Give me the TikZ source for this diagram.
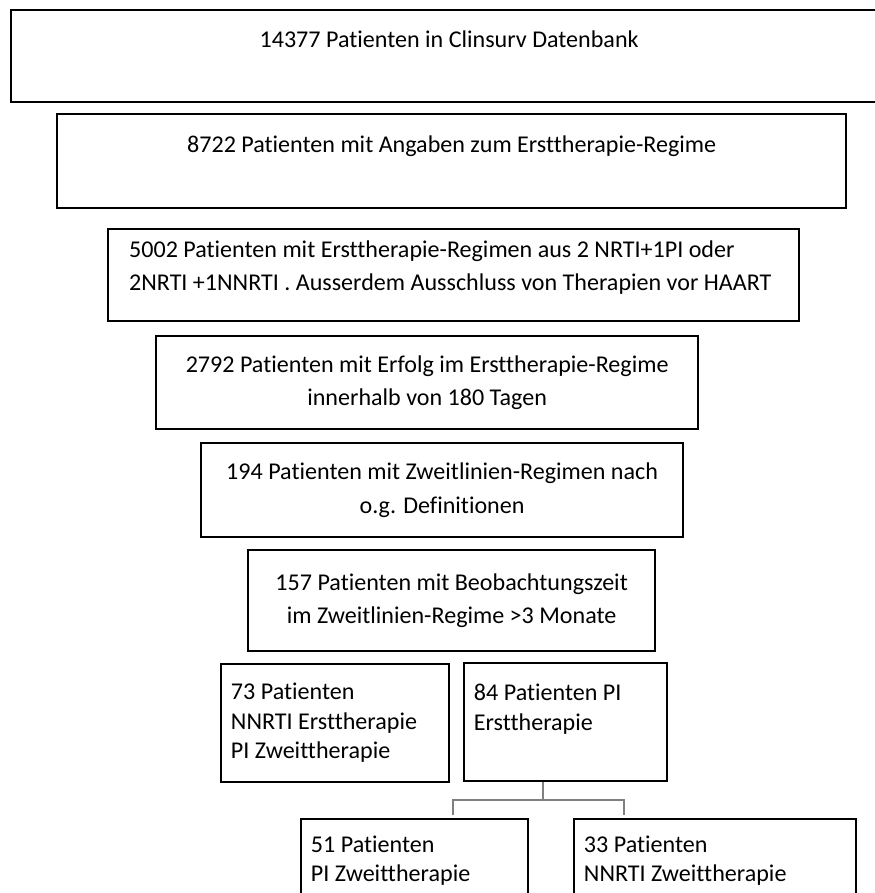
\documentclass[tikz,border=0pt]{standalone}
\usepackage{fontspec}
\setmainfont{Carlito}[Ligatures=NoCommon]

\begin{document}
\begin{tikzpicture}
        \tikzstyle{every node}=[rectangle, draw=black, line width=1.3pt, inner sep=0pt, anchor=north west, align=flush center, font=\fontsize{13.7}{19}\selectfont, text=black]
        \tikzstyle{lower}=[line width=1.1pt, inner xsep=0.2cm, align=flush left, font=\fontsize{13.7}{16.7}\selectfont]
        \tikzstyle{link}=[gray, line width=0.8pt]

        \useasboundingbox (0,0) rectangle (17.5,-17.86);
        \clip (0,0) rectangle (17.5,-17.86);

        \node (db)     at (0.20,-0.18)  [minimum width=17.52cm, minimum height=1.84cm] {14377 Patienten in Clinsurv Datenbank\\~};
        \node (first)  at (1.12,-2.26)  [minimum width=15.78cm, minimum height=1.88cm] {8722 Patienten mit Angaben zum Ersttherapie-Regime\\~};
        \node (regime) at (2.14,-4.56)  [minimum width=13.82cm, minimum height=1.84cm, inner xsep=0.42cm, text width=12.98cm, align=flush left]
                {5002 Patienten mit Ersttherapie-Regimen aus 2 NRTI+1PI oder\\2NRTI +1NNRTI . Ausserdem Ausschluss von Therapien vor HAART\\[-8pt]~};
        \node (succ)   at (3.10,-6.70)  [minimum width=10.84cm, minimum height=1.86cm] {2792 Patienten mit Erfolg im Ersttherapie-Regime\\innerhalb von 180 Tagen};
        \node (second) at (4.00,-8.84)  [minimum width=9.64cm,  minimum height=1.88cm] {194 Patienten mit Zweitlinien-Regimen nach\\o.g. Definitionen};
        \node (obs)    at (4.94,-10.98) [minimum width=8.14cm,  minimum height=2.02cm] {157 Patienten mit Beobachtungszeit\\im Zweitlinien-Regime >3 Monate};

        \node[lower] (nnrti)   at (4.40,-13.26) [minimum height=2.36cm, text width=4.16cm] {73 Patienten\\NNRTI Ersttherapie\\PI Zweittherapie};
        \node[lower] (pi)      at (9.26,-13.24) [minimum height=2.36cm, text width=3.66cm] {84 Patienten PI\\Ersttherapie\\~};
        \node[lower] (pipi)    at (6.00,-16.36) [minimum height=1.66cm, text width=4.14cm] {51 Patienten\\PI Zweittherapie};
        \node[lower] (pinnrti) at (11.46,-16.36) [minimum height=1.66cm, text width=5.24cm] {33 Patienten\\NNRTI Zweittherapie};

        \draw[link] ([xshift=-0.45cm]pi.south) -- ++(0,-0.36) -| ([xshift=0.77cm,yshift=0.06cm]pipi.north);
        \draw[link] ([xshift=-0.45cm]pi.south) ++(0,-0.36) -| ([xshift=-1.82cm,yshift=0.06cm]pinnrti.north);
    \end{tikzpicture}
\end{document}
